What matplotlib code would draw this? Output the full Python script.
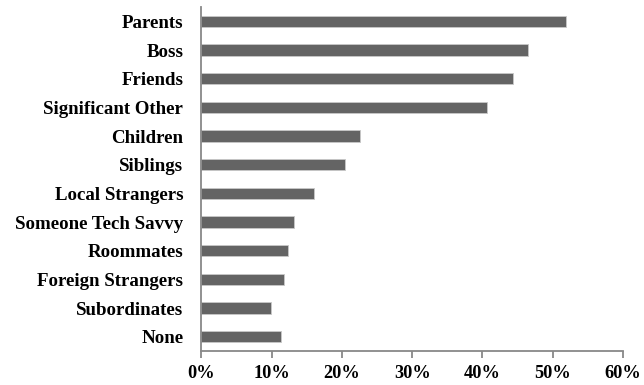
import matplotlib
matplotlib.use("Agg")
import matplotlib.pyplot as plt
from matplotlib.ticker import FuncFormatter

categories = ["Parents", "Boss", "Friends", "Significant Other", "Children",
              "Siblings", "Local Strangers", "Someone Tech Savvy", "Roommates",
              "Foreign Strangers", "Subordinates", "None"]
values = [51.9, 46.5, 44.4, 40.7, 22.6, 20.5, 16.1, 13.2, 12.4, 11.7, 9.9, 11.3]
xticks = [0, 10, 20, 30, 40, 50, 60]

plt.rcParams["font.family"] = ["Liberation Serif", "DejaVu Serif"]
plt.rcParams["font.weight"] = "bold"

fig = plt.figure(figsize=(6.44, 3.85), dpi=100)
ax = fig.add_axes([0.3126, 0.0883, 0.6548, 0.8935])

pos = list(range(len(categories)))
ax.barh(pos, values, height=0.39, color="#646464",
        edgecolor="#c8c8c8", linewidth=0.6)

ax.set_xlim(0, 60)
ax.set_ylim(len(categories) - 0.5, -0.5)
ax.set_yticks(pos)
ax.set_yticklabels(categories, fontsize=13.6, fontweight="bold")
ax.set_xticks(xticks)
ax.xaxis.set_major_formatter(FuncFormatter(lambda v, p: f"{v:.0f}%"))
for lbl in ax.get_xticklabels():
    lbl.set_fontweight("bold")
    lbl.set_fontsize(13.2)

for s in ("top", "right"):
    ax.spines[s].set_visible(False)
for s in ("left", "bottom"):
    ax.spines[s].set_color("#888888")
    ax.spines[s].set_linewidth(1.3)

ax.tick_params(axis="y", length=0, pad=13)
ax.tick_params(axis="x", length=5, width=1.3, color="#888888", pad=5, direction="out")

fig.savefig("out.png", dpi=100)
